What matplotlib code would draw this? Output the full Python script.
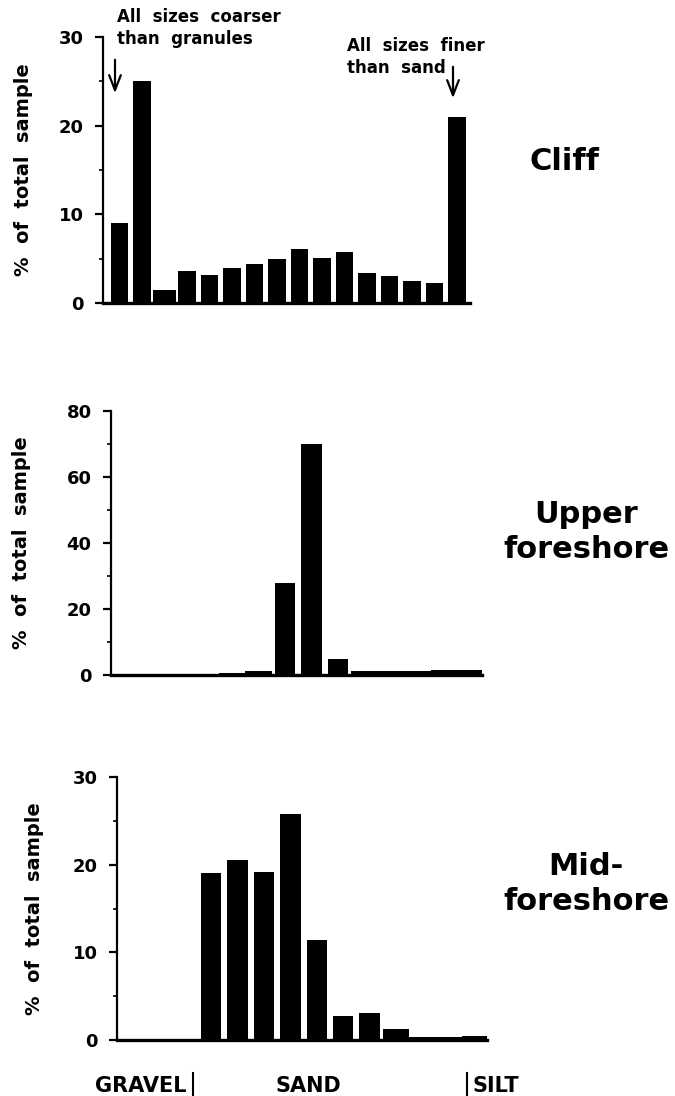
import numpy as np
import matplotlib
matplotlib.use("Agg")
import matplotlib.pyplot as plt
from matplotlib.lines import Line2D
from matplotlib.patches import FancyArrowPatch
from matplotlib.ticker import MultipleLocator

plt.rcParams['font.family'] = ['DejaVu Sans']
plt.rcParams['font.weight'] = 'bold'

# Grain-size distributions (% of total sample per size class)
cliff_pct = [9.0, 25.0, 1.5, 3.6, 3.2, 4.0, 4.4, 5.0, 6.1, 5.1, 5.7, 3.4, 3.1, 2.5, 2.2, 21.0]
upper_pct = [0.1, 0.2, 0.4, 0.4, 0.5, 1.2, 28.0, 70.0, 5.0, 1.2, 1.2, 1.3, 1.4, 1.5]
mid_pct = [0.1, 0.1, 0.1, 19.1, 20.5, 19.2, 25.8, 11.4, 2.7, 3.1, 1.2, 0.3, 0.3, 0.5]

panel_names = ["Cliff", "Upper\nforeshore", "Mid-\nforeshore"]
y_max = [30, 80, 30]
y_major = [10, 20, 10]
ylabel = "%  of  total  sample"
class_labels = ["GRAVEL", "SAND", "SILT"]

W, H = 675, 1096
fig = plt.figure(figsize=(W / 100, H / 100), dpi=100)


def fx(x):
    return x / W


def fy(y):
    return 1 - y / H


def add_panel(left, right, top, bottom):
    return fig.add_axes([fx(left), fy(bottom), fx(right - left), (bottom - top) / H])


# axes frames in pixel coordinates: left, right, top, bottom
frames = [(103, 470, 37, 303), (111, 482, 411, 675), (117, 487, 777, 1040)]
xlims = [(-0.73, 15.58), (-0.56, 13.44), (-0.56, 13.44)]
label_right = [33, 31, 44]
data = [cliff_pct, upper_pct, mid_pct]

axes = []
for i, (vals, fr) in enumerate(zip(data, frames)):
    ax = add_panel(*fr)
    x = np.arange(len(vals))
    widths = [0.77 if v >= 2 else 1.0 for v in vals]
    ax.bar(x, vals, width=widths, color='black', edgecolor='none', zorder=3)
    ax.set_xlim(*xlims[i])
    ax.set_ylim(0, y_max[i])
    ax.yaxis.set_major_locator(MultipleLocator(y_major[i]))
    ax.yaxis.set_minor_locator(MultipleLocator(y_major[i] / 2))
    ax.set_xticks([])
    for s in ('top', 'right'):
        ax.spines[s].set_visible(False)
    ax.spines['left'].set_linewidth(1.6)
    ax.spines['bottom'].set_linewidth(2.4)
    ax.tick_params(axis='y', which='major', direction='out', length=6, width=1.6,
                   labelsize=13, pad=8)
    ax.tick_params(axis='y', which='minor', direction='out', length=3, width=1.2)
    for lab in ax.get_yticklabels():
        lab.set_fontweight('bold')
    ax.set_ylabel(ylabel, fontsize=14, fontweight='bold')
    ax.yaxis.set_label_coords((label_right[i] - fr[0]) / (fr[1] - fr[0]), 0.5)
    axes.append(ax)

# panel names
fig.text(fx(564), fy(162), panel_names[0], fontsize=22, fontweight='bold',
         ha='center', va='center')
fig.text(fx(586), fy(532), panel_names[1], fontsize=22, fontweight='bold',
         ha='center', va='center', linespacing=1.25)
fig.text(fx(586), fy(884), panel_names[2], fontsize=22, fontweight='bold',
         ha='center', va='center', linespacing=1.25)

# notes above the cliff histogram
note_kw = dict(fontsize=12, fontweight='bold', ha='left', va='baseline')
fig.text(fx(117), fy(22), "All  sizes  coarser", **note_kw)
fig.text(fx(117), fy(44), "than  granules", **note_kw)
fig.text(fx(347), fy(51), "All  sizes  finer", **note_kw)
fig.text(fx(347), fy(73), "than  sand", **note_kw)

arrow_kw = dict(arrowstyle='->,head_length=0.9,head_width=0.35', color='black', lw=1.6,
                transform=fig.transFigure, mutation_scale=12)
fig.add_artist(FancyArrowPatch((fx(115), fy(57)), (fx(115), fy(96)), **arrow_kw))
fig.add_artist(FancyArrowPatch((fx(453), fy(64)), (fx(453), fy(101)), **arrow_kw))

# size-class labels under the bottom panel
fig.text(fx(187), fy(1086), class_labels[0], fontsize=15, fontweight='bold',
         ha='right', va='center')
fig.text(fx(308), fy(1086), class_labels[1], fontsize=15, fontweight='bold',
         ha='center', va='center')
fig.text(fx(472), fy(1086), class_labels[2], fontsize=15, fontweight='bold',
         ha='left', va='center')
for xb in (193, 467):
    fig.add_artist(Line2D([fx(xb), fx(xb)], [fy(1073), fy(1095)],
                          transform=fig.transFigure, color='black', lw=1.5))

fig.savefig("out.png", dpi=100, facecolor='white')
